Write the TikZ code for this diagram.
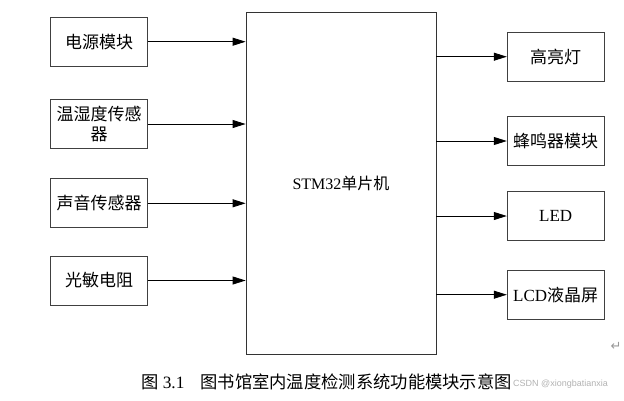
\documentclass[tikz,border=0pt]{standalone}
\usepackage{fontspec}
\setmainfont{Liberation Serif}
\newfontfamily\cjk{Noto Sans CJK SC}
\newfontfamily\wmfont{Liberation Sans}
\newfontfamily\symfont{DejaVu Sans}
\usetikzlibrary{arrows.meta}
\begin{document}
\begin{tikzpicture}[x=1pt,y=-1pt,
  modbox/.style={draw=black!75,line width=0.8pt,minimum width=97pt,minimum height=49pt,inner sep=2pt,align=center,font=\fontsize{17}{20.5}\selectfont},
  mcubox/.style={draw=black!80,line width=0.8pt,minimum width=190pt,minimum height=342pt,font=\fontsize{16}{19}\selectfont},
  conn/.style={line width=0.8pt,-{Triangle[length=13pt,width=8pt]}}]
\useasboundingbox (0,0) rectangle (624,400);
\node[mcubox] (mcu) at (341,183) {STM32{\cjk 单片机}};
\node[modbox] (l1) at (99,41.7) {\cjk 电源模块};
\node[modbox] (l2) at (99,124) {\cjk 温湿度传感\\\cjk 器};
\node[modbox] (l3) at (99,203.3) {\cjk 声音传感器};
\node[modbox] (l4) at (99,280.5) {\cjk 光敏电阻};
\node[modbox] (r1) at (555.7,56.7) {\cjk 高亮灯};
\node[modbox] (r2) at (555.7,141) {\cjk 蜂鸣器模块};
\node[modbox] (r3) at (555.7,216) {LED};
\node[modbox] (r4) at (555.7,294.7) {LCD{\cjk 液晶屏}};
\foreach \n in {l1,l2,l3,l4}{\draw[conn] (\n.east) -- (\n.east -| mcu.west);}
\foreach \n in {r1,r2,r3,r4}{\draw[conn] (\n.west -| mcu.east) -- (\n.west);}
\node[anchor=west,inner sep=0pt,font=\fontsize{17.3}{20}\selectfont] (cap) at (141,382) {{\cjk 图} 3.1\hspace{16pt}{\cjk 图书馆室内温度检测系统功能模块示意图}};
\node[anchor=west,inner sep=0pt,text=black!30,font=\wmfont\fontsize{9}{10}\selectfont] (wm) at (513,384) {CSDN @xiongbatianxia};
\node[inner sep=0pt,text=black!40,font=\symfont\fontsize{13}{14}\selectfont] (ret) at (616,346) {↵};
\end{tikzpicture}
\end{document}
